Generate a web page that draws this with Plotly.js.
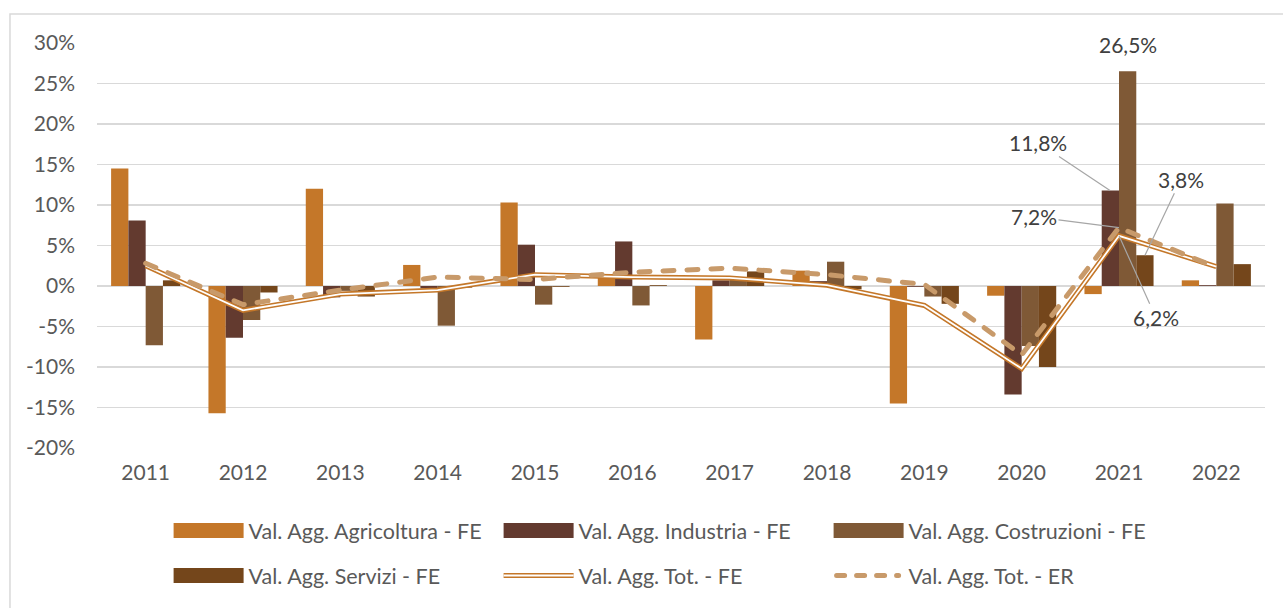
<!DOCTYPE html>
<html>
<head>
<meta charset="utf-8">
<script src="https://cdn.plot.ly/plotly-3.0.1.min.js"></script>
<style>html,body{margin:0;padding:0;background:#fff;} #chart{width:1283px;height:608px;}</style>
</head>
<body>
<div id="chart"></div>
<script>
// ---- data (percent) ----
var years = ['2011','2012','2013','2014','2015','2016','2017','2018','2019','2020','2021','2022'];
var agricoltura = [14.5, -15.7, 12.0, 2.6, 10.3, 1.0, -6.6, 1.9, -14.5, -1.2, -1.0, 0.7];
var industria   = [8.1, -6.4, -1.4, -0.3, 5.1, 5.5, 0.7, 0.6, -0.1, -13.4, 11.8, 0.1];
var costruzioni = [-7.3, -4.2, -0.6, -4.9, -2.3, -2.4, 1.0, 3.0, -1.3, -7.4, 26.5, 10.2];
var servizi     = [0.7, -0.8, -1.3, -0.2, -0.1, 0.1, 1.8, -0.4, -2.2, -10.0, 3.8, 2.7];
var totFE       = [2.5, -3.0, -1.0, -0.5, 1.4, 1.1, 1.0, 0.1, -2.4, -10.2, 6.2, 2.4];
var totER       = [2.8, -2.3, -0.5, 1.1, 0.8, 1.7, 2.2, 1.4, 0.2, -8.5, 7.2, 2.3];
var tickVals    = [-20, -15, -10, -5, 0, 5, 10, 15, 20, 25, 30];
var tickLabels  = ['-20%','-15%','-10%','-5%','0%','5%','10%','15%','20%','25%','30%'];
var seriesNames = ['Val. Agg. Agricoltura - FE','Val. Agg. Industria - FE','Val. Agg. Costruzioni - FE',
                   'Val. Agg. Servizi - FE','Val. Agg. Tot. - FE','Val. Agg. Tot. - ER'];

var cAgri = '#C47729', cInd = '#633A2F', cCostr = '#7F5936', cServ = '#74461B';
var cTot = '#C47729', cER = '#C89A6A';

function fmt(v){ return v.toFixed(1).replace('.', ',') + '%'; }

var traces = [
  {type:'bar', x:years, y:agricoltura, name:seriesNames[0], marker:{color:cAgri}, legend:'legend'},
  {type:'bar', x:years, y:industria,   name:seriesNames[1], marker:{color:cInd}, legend:'legend'},
  {type:'bar', x:years, y:costruzioni, name:seriesNames[2], marker:{color:cCostr}, legend:'legend'},
  {type:'bar', x:years, y:servizi,     name:seriesNames[3], marker:{color:cServ}, legend:'legend2'},
  {type:'scatter', mode:'lines', x:years, y:totFE, name:seriesNames[4], line:{color:cTot, width:5}, legend:'legend2'},
  {type:'scatter', mode:'lines', x:years, y:totFE, name:'inner', showlegend:false, line:{color:'#ffffff', width:1.8}, legend:'legend2'},
  {type:'scatter', mode:'lines', x:years, y:totER, name:seriesNames[5], line:{color:cER, width:5, dash:'11px,13px'}, legend:'legend2'}
];

var i21 = years.indexOf('2021');   // category index used as x position for annotations
var annFont = {family:'Lato, sans-serif', size:21, color:'#404040'};
var arrowStyle = {showarrow:true, arrowhead:0, arrowwidth:1.2, arrowcolor:'#A6A6A6', standoff:0};
var annotations = [
  {x:i21, y:costruzioni[i21], text:fmt(costruzioni[i21]), showarrow:false, xshift:9, yshift:12, yanchor:'bottom', font:annFont},
  Object.assign({x:i21, y:industria[i21], text:fmt(industria[i21]), xshift:-9, ax:-72, ay:-48, font:annFont}, arrowStyle),
  Object.assign({x:i21, y:totER[i21], text:fmt(totER[i21]), ax:-85, ay:-11, font:annFont}, arrowStyle),
  Object.assign({x:i21, y:totFE[i21], text:fmt(totFE[i21]), ax:37, ay:82, font:annFont}, arrowStyle),
  Object.assign({x:i21, y:servizi[i21], text:fmt(servizi[i21]), xshift:26, ax:36, ay:-76, font:annFont}, arrowStyle)
];

var tickFont = {family:'Lato, sans-serif', size:21, color:'#595959'};
var legFont = {family:'Lato, sans-serif', size:21.5, color:'#595959'};
var legendCommon = {orientation:'h', xanchor:'left', yanchor:'middle', font:legFont,
  itemwidth:70, entrywidth:245, entrywidthmode:'pixels', bgcolor:'rgba(0,0,0,0)', borderwidth:0};

var layout = {
  width:1283, height:608,
  margin:{l:97, r:18, t:43, b:158},
  paper_bgcolor:'#ffffff', plot_bgcolor:'#ffffff',
  barmode:'group', bargap:0.29, bargroupgap:0,
  font:tickFont,
  xaxis:{type:'category', range:[-0.5, years.length-0.5], showgrid:false, zeroline:false, showline:false, ticks:'', tickfont:tickFont, ticklabelstandoff:10},
  yaxis:{range:[-20,30], tickvals:tickVals, ticktext:tickLabels, showgrid:true, gridcolor:'#D9D9D9', gridwidth:1.3,
         zeroline:true, zerolinecolor:'#D9D9D9', zerolinewidth:1.3, showline:false, ticks:'', tickfont:tickFont, ticklabelstandoff:21},
  legend:Object.assign({x:0.0613, y:-0.204}, legendCommon),
  legend2:Object.assign({x:0.0613, y:-0.315}, legendCommon),
  annotations:annotations,
  shapes:[{type:'rect', xref:'paper', yref:'paper', x0:-0.0745, x1:1.03, y0:-0.41, y1:1.0713,
           line:{color:'#D9D9D9', width:1.5}, fillcolor:'rgba(0,0,0,0)', layer:'below'}],
  showlegend:true
};

Plotly.newPlot('chart', traces, layout, {staticPlot:true, displayModeBar:false}).then(function(){
  document.querySelectorAll('g.traces').forEach(function(g){
    var name = g.textContent.trim();
    var idx = seriesNames.indexOf(name);
    if(idx >= 0 && idx <= 3){
      g.querySelectorAll('path').forEach(function(p){
        p.setAttribute('d','M-35,7.5H35V-7.5H-35Z');
      });
      return;
    }
    var lp = g.querySelector('path.js-line');
    if(!lp) return;
    if(idx === 4){
      var w = lp.cloneNode(true);
      w.style.stroke = '#ffffff';
      w.style.strokeWidth = '2px';
      lp.parentNode.appendChild(w);
    }
    if(idx === 5){
      lp.style.strokeLinecap = 'round';
      lp.style.strokeDasharray = '8px,12px';
      lp.setAttribute('d','M8,0h62');
    }
  });
  document.querySelectorAll('.scatterlayer path.js-line').forEach(function(p){
    var s = p.style.stroke.replace(/\s/g,'');
    if(s === 'rgb(200,154,106)') p.style.strokeLinecap = 'round';
  });
});
</script>
</body>
</html>
